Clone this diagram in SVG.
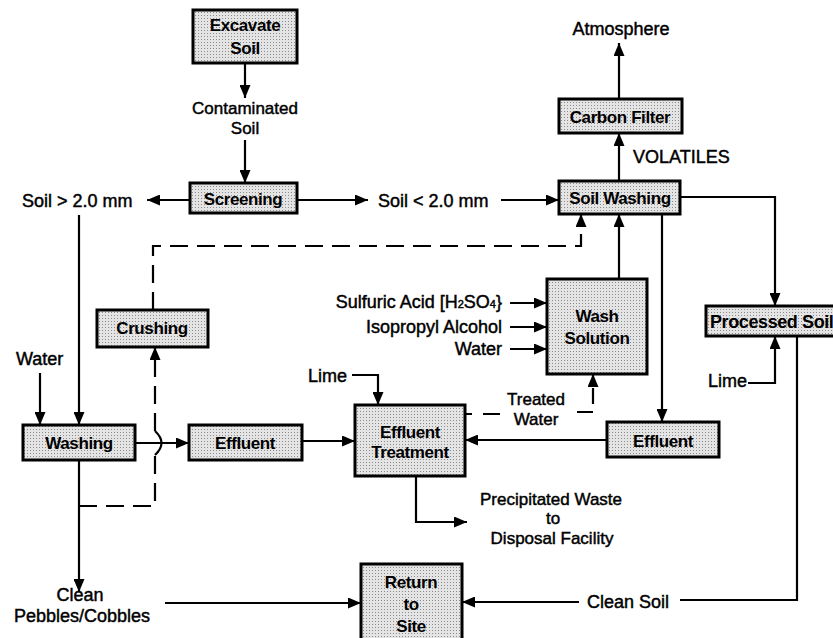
<svg xmlns="http://www.w3.org/2000/svg" width="833" height="638" viewBox="0 0 833 638">
<style>
.box{fill:url(#ht);stroke:#000;stroke-width:3}
.bt{font-family:"Liberation Sans",Arial,sans-serif;font-weight:bold;font-size:17px;fill:#000;text-anchor:middle;letter-spacing:-0.4px}
.lb{font-family:"Liberation Sans",Arial,sans-serif;font-size:18px;fill:#000;stroke:#000;stroke-width:0.45}
.sm{font-size:17px}
.c{text-anchor:middle}
.e{text-anchor:end}
.ln{fill:none;stroke:#000;stroke-width:2.2}
.ar{marker-end:url(#ah)}
.ds{stroke-dasharray:18 9}
</style>
<defs>
<pattern id="ht" width="3" height="3" patternUnits="userSpaceOnUse">
<rect width="3" height="3" fill="#e4e4e4"/>
<rect width="1" height="1" fill="#8a8a8a"/>
</pattern>
<marker id="ah" markerUnits="userSpaceOnUse" markerWidth="14" markerHeight="11" refX="13" refY="5.5" orient="auto">
<path d="M0,0 L13,5.5 L0,11 z" fill="#000"/>
</marker>
</defs>
<rect width="833" height="638" fill="#fff"/>

<g id="connectors">
<path class="ln ar" d="M245,63 V98"/>
<path class="ln ar" d="M245,140 V183"/>
<path class="ln ar" d="M190,200 H147"/>
<path class="ln ar" d="M297,200 H368"/>
<path class="ln ar" d="M501,200 H559"/>
<path class="ln ar" d="M619,181 V133"/>
<path class="ln ar" d="M619,99 V43"/>
<path class="ln ar" d="M680,197 H775 V306"/>
<path class="ln ar" d="M748,383 H775 V336"/>
<path class="ln" d="M797,336 V600 H680"/>
<path class="ln ar" d="M579,602 H462"/>
<path class="ln ar" d="M165,603 H361"/>
<path class="ln ar" d="M79,460 V592"/>
<path class="ln ar" d="M79,215 V425"/>
<path class="ln ar" d="M40,373 V425"/>
<path class="ln ar" d="M135,443 H189"/>
<path class="ln ds" d="M79,506 H155 V455"/>
<path class="ln" d="M155,455 Q168,443 155,431"/>
<path class="ln ds ar" d="M155,431 V347"/>
<path class="ln ds ar" d="M153,310 V246 H581 V214"/>
<path class="ln ar" d="M619,279 V214"/>
<path class="ln ar" d="M662,214 V422"/>
<path class="ln ar" d="M510,303 H547"/>
<path class="ln ar" d="M510,327 H547"/>
<path class="ln ar" d="M510,349 H547"/>
<path class="ln ar" d="M302,441 H355"/>
<path class="ln ar" d="M607,440 H465"/>
<path class="ln ar" d="M352,375 H378 V405"/>
<path class="ln" d="M465,414 H472 M483,414 H500"/>
<path class="ln ar" d="M577,412 H593 V374" stroke-dasharray="16 8"/>
<path class="ln ar" d="M416,476 V522 H467"/>
</g>

<g id="excavate"><rect class="box" x="193" y="10" width="104" height="53"/><text class="bt" x="245" y="31">Excavate</text><text class="bt" x="245" y="54">Soil</text></g>
<g id="screening"><rect class="box" x="190" y="183" width="107" height="30"/><text class="bt" x="243" y="205">Screening</text></g>
<g id="soilwashing"><rect class="box" x="559" y="181" width="121" height="33"/><text class="bt" x="620" y="204">Soil Washing</text></g>
<g id="carbonfilter"><rect class="box" x="559" y="99" width="123" height="34"/><text class="bt" x="620" y="123">Carbon Filter</text></g>
<g id="crushing"><rect class="box" x="97" y="310" width="111" height="37"/><text class="bt" x="152" y="334">Crushing</text></g>
<g id="washing"><rect class="box" x="23" y="425" width="112" height="35"/><text class="bt" x="79" y="449">Washing</text></g>
<g id="effluent1"><rect class="box" x="189" y="425" width="113" height="35"/><text class="bt" x="245" y="449">Effluent</text></g>
<g id="washsolution"><rect class="box" x="547" y="279" width="100" height="95"/><text class="bt" x="597" y="322">Wash</text><text class="bt" x="597" y="344">Solution</text></g>
<g id="effluenttreatment"><rect class="box" x="355" y="405" width="110" height="71"/><text class="bt" x="410" y="438">Effluent</text><text class="bt" x="410" y="458">Treatment</text></g>
<g id="effluent2"><rect class="box" x="607" y="422" width="112" height="35"/><text class="bt" x="663" y="447">Effluent</text></g>
<g id="processedsoil"><rect class="box" x="706" y="306" width="140" height="30"/><text class="bt" x="710" y="328" style="text-anchor:start;font-size:18px">Processed Soil</text></g>
<g id="returntosite"><rect class="box" x="361" y="564" width="101" height="80"/><text class="bt" x="411" y="588">Return</text><text class="bt" x="411" y="610">to</text><text class="bt" x="411" y="632">Site</text></g>

<g id="labels">
<text class="lb sm c" x="245" y="114">Contaminated</text>
<text class="lb sm c" x="245" y="134">Soil</text>
<text class="lb" x="22" y="207">Soil &gt; 2.0 mm</text>
<text class="lb" x="378" y="207">Soil &lt; 2.0 mm</text>
<text class="lb c" x="621" y="35">Atmosphere</text>
<text class="lb" x="633" y="163">VOLATILES</text>
<text class="lb e" x="502" y="308">Sulfuric Acid [H<tspan font-size="11">2</tspan>SO<tspan font-size="11">4</tspan>}</text>
<text class="lb e" x="502" y="333">Isopropyl Alcohol</text>
<text class="lb e" x="502" y="355">Water</text>
<text class="lb" x="16" y="365">Water</text>
<text class="lb" x="308" y="382">Lime</text>
<text class="lb" x="708" y="387">Lime</text>
<text class="lb sm c" x="536" y="405">Treated</text>
<text class="lb sm c" x="536" y="425">Water</text>
<text class="lb sm c" x="551" y="505">Precipitated Waste</text>
<text class="lb sm c" x="553" y="524">to</text>
<text class="lb sm c" x="552" y="544">Disposal Facility</text>
<text class="lb c" x="80" y="601">Clean</text>
<text class="lb c" x="82" y="622">Pebbles/Cobbles</text>
<text class="lb" x="587" y="608">Clean Soil</text>
</g>
</svg>
